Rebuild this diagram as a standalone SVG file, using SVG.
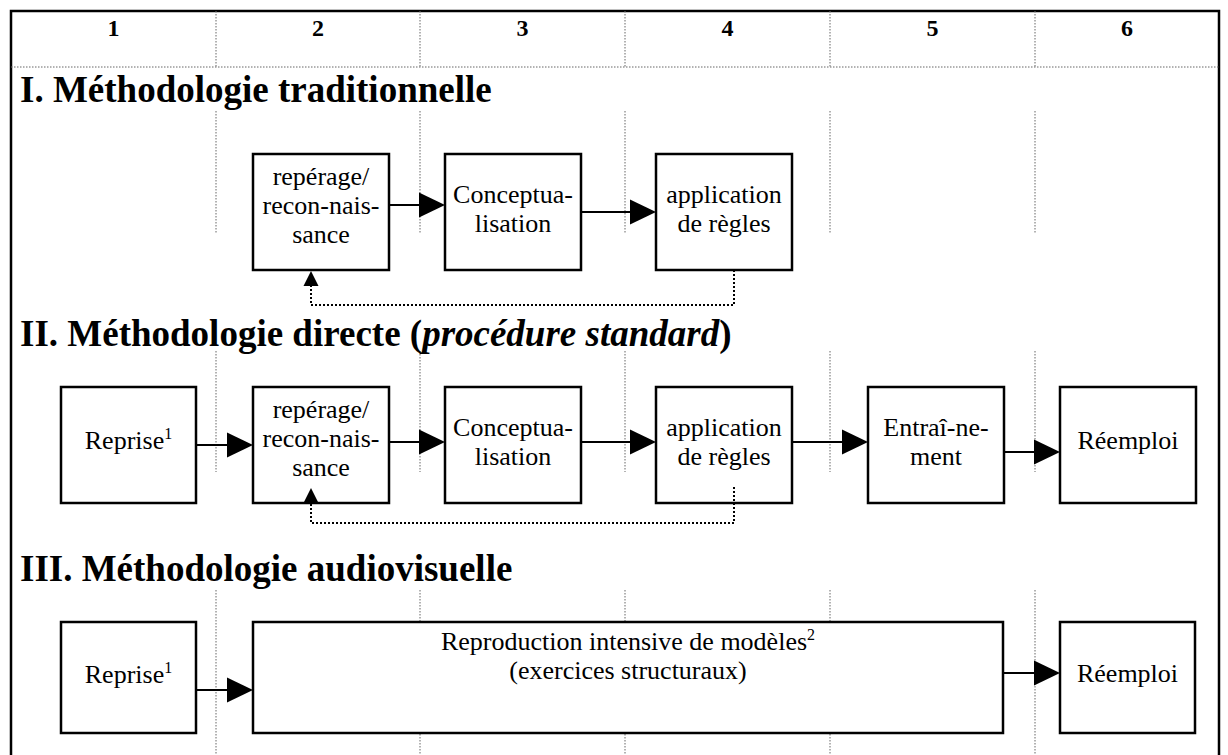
<svg xmlns="http://www.w3.org/2000/svg" width="1228" height="755" viewBox="0 0 1228 755">
<defs>
<style>
text{font-family:"Liberation Serif","Times New Roman",serif;fill:#000}
.hd{font-size:24px;font-weight:bold;text-anchor:middle}
.tt{font-size:37px;font-weight:bold}
.lb{font-size:26px;text-anchor:middle}
.sup{font-size:16px}
.box{fill:#fff;stroke:#000;stroke-width:2.5}
.col{stroke:#666;stroke-width:1;stroke-dasharray:1.5 1.5;fill:none}
.frame{stroke:#000;stroke-width:2.5;fill:none}
.ar{stroke:#000;stroke-width:2;fill:none}
.fb{stroke:#000;stroke-width:2;stroke-dasharray:2 2;fill:none}
</style>
<marker id="big" markerUnits="userSpaceOnUse" markerWidth="27" markerHeight="26" refX="0" refY="12.5" orient="auto" overflow="visible">
<path d="M0,0 L26,12.5 L0,25 z" fill="#000"/>
</marker>
<marker id="small" markerUnits="userSpaceOnUse" markerWidth="16" markerHeight="16" refX="0" refY="7.5" orient="auto" overflow="visible">
<path d="M0,0 L15,7.5 L0,15 z" fill="#000"/>
</marker>
</defs>

<g id="grid">
<path class="frame" d="M11,755 V11 H1219 V755"/>
<path class="col" d="M11,67 H1219"/>
<path class="col" d="M216,11 V67 M420,11 V67 M625,11 V67 M830,11 V67 M1035,11 V67"/>
<path class="col" d="M216,111 V233 M420,111 V233 M625,111 V233 M830,111 V233 M1035,111 V233"/>
<path class="col" d="M216,351 V472 M420,351 V472 M625,351 V472 M830,351 V472 M1035,351 V472"/>
<path class="col" d="M216,590 V755 M420,590 V755 M625,590 V755 M830,590 V755 M1035,590 V755"/>
<text class="hd" x="113.5" y="36">1</text>
<text class="hd" x="318" y="36">2</text>
<text class="hd" x="522.5" y="36">3</text>
<text class="hd" x="727.5" y="36">4</text>
<text class="hd" x="932.5" y="36">5</text>
<text class="hd" x="1127" y="36">6</text>
<text class="tt" x="20" y="102">I. Méthodologie traditionnelle</text>
<text class="tt" x="20" y="346">II. Méthodologie directe (<tspan font-style="italic">procédure standard</tspan>)</text>
<text class="tt" x="20" y="581">III. Méthodologie audiovisuelle</text>
</g>

<g id="connectors">
<line class="ar" x1="389" y1="205" x2="419" y2="205" marker-end="url(#big)"/>
<line class="ar" x1="581" y1="212" x2="630" y2="212" marker-end="url(#big)"/>
<path class="fb" d="M734,270 V305 H311 V286" marker-end="url(#small)"/>
<line class="ar" x1="196" y1="445" x2="227" y2="445" marker-end="url(#big)"/>
<line class="ar" x1="389" y1="442" x2="419" y2="442" marker-end="url(#big)"/>
<line class="ar" x1="581" y1="442" x2="630" y2="442" marker-end="url(#big)"/>
<line class="ar" x1="792" y1="442" x2="842" y2="442" marker-end="url(#big)"/>
<line class="ar" x1="1004" y1="452" x2="1034" y2="452" marker-end="url(#big)"/>
<path class="fb" d="M734,487 V523 H311 V503" marker-end="url(#small)"/>
<line class="ar" x1="196" y1="690" x2="227" y2="690" marker-end="url(#big)"/>
<line class="ar" x1="1003" y1="673" x2="1034" y2="673" marker-end="url(#big)"/>
</g>

<g id="n1-reperage"><rect class="box" x="253" y="154" width="136" height="116"/>
<text class="lb" x="321" y="185">repérage/</text><text class="lb" x="321" y="214">recon-nais-</text><text class="lb" x="321" y="243">sance</text></g>
<g id="n1-concept"><rect class="box" x="445" y="154" width="136" height="116"/>
<text class="lb" x="513" y="203">Conceptua-</text><text class="lb" x="513" y="232">lisation</text></g>
<g id="n1-application"><rect class="box" x="656" y="154" width="136" height="116"/>
<text class="lb" x="724" y="203">application</text><text class="lb" x="724" y="232">de règles</text></g>

<g id="n2-reprise"><rect class="box" x="61" y="387" width="135" height="116"/>
<text class="lb" x="128.5" y="449">Reprise<tspan class="sup" dy="-10">1</tspan></text></g>
<g id="n2-reperage"><rect class="box" x="253" y="387" width="136" height="116" style="fill:none"/>
<text class="lb" x="321" y="418">repérage/</text><text class="lb" x="321" y="447">recon-nais-</text><text class="lb" x="321" y="476">sance</text></g>
<g id="n2-concept"><rect class="box" x="445" y="387" width="136" height="116"/>
<text class="lb" x="513" y="436">Conceptua-</text><text class="lb" x="513" y="465">lisation</text></g>
<g id="n2-application"><rect class="box" x="656" y="387" width="136" height="116" style="fill:none"/>
<text class="lb" x="724" y="436">application</text><text class="lb" x="724" y="465">de règles</text></g>
<g id="n2-entrainement"><rect class="box" x="868" y="387" width="136" height="116"/>
<text class="lb" x="936" y="436">Entraî-ne-</text><text class="lb" x="936" y="465">ment</text></g>
<g id="n2-reemploi"><rect class="box" x="1060" y="387" width="136" height="116"/>
<text class="lb" x="1128" y="449">Réemploi</text></g>

<g id="n3-reprise"><rect class="box" x="61" y="622" width="135" height="111"/>
<text class="lb" x="128.5" y="683">Reprise<tspan class="sup" dy="-10">1</tspan></text></g>
<g id="n3-reproduction"><rect class="box" x="253" y="622" width="750" height="111"/>
<text class="lb" x="628" y="650">Reproduction intensive de modèles<tspan class="sup" dy="-10">2</tspan></text>
<text class="lb" x="628" y="679">(exercices structuraux)</text></g>
<g id="n3-reemploi"><rect class="box" x="1060" y="622" width="135" height="111"/>
<text class="lb" x="1127.5" y="682">Réemploi</text></g>
</svg>
